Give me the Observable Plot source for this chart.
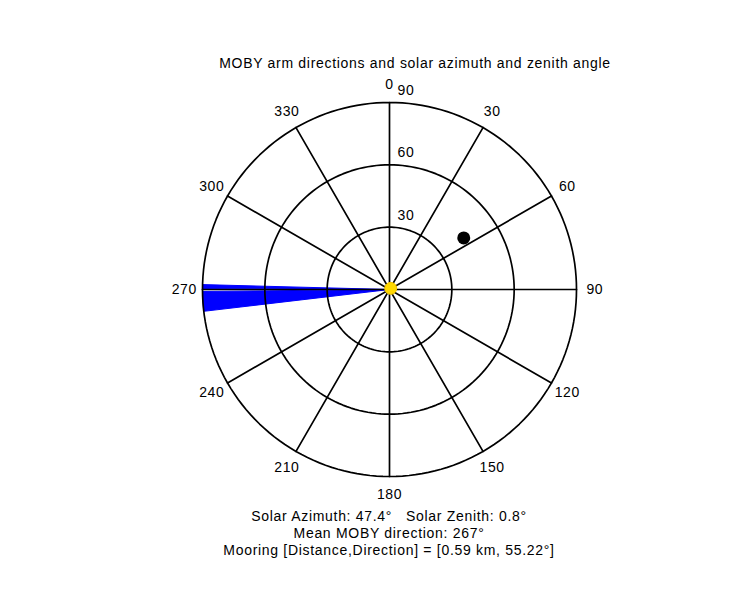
<!DOCTYPE html>
<html>
<head>
<meta charset="utf-8">
<script src="https://cdn.jsdelivr.net/npm/d3@7"></script>
<script src="https://cdn.jsdelivr.net/npm/@observablehq/plot@0.6"></script>
<style>
  body { margin: 0; background: #fff; }
  #wrap { position: relative; width: 750px; height: 600px; font-family: "Liberation Sans", Arial, sans-serif; color: #000; }
  #wrap svg { position: absolute; left: 0; top: 0; }
  #wrap svg text { letter-spacing: 0.6px; }
  .t { position: absolute; left: 0; width: 750px; text-align: center; font-size: 14px; line-height: 17px; white-space: pre; letter-spacing: 0.7px; }
</style>
</head>
<body>
<div id="wrap"></div>
<script>
// ---- data ----
const title = "MOBY arm directions and solar azimuth and zenith angle";
const ringValues = [30, 60, 90];                 // zenith rings (deg)
const spokeAngles = [0, 30, 60, 90, 120, 150];   // spokes through center
const angleLabels = [0, 30, 60, 90, 120, 150, 180, 210, 240, 270, 300, 330];
// MOBY arm direction wedges [start, end] azimuth (deg)
const armWedgeStart = [263.3, 270.3];
const armWedgeEnd   = [269.4, 271.5];
const solarAzimuth = 47.4;
const solarZenith = 0.8;
const meanMobyDirection = 267;
const mooringDistanceKm = 0.59;
const mooringDirection = 55.22;
const mooringPlotRadius = 43.5;   // plotted radius of mooring marker
const captionLines = [
  "Solar Azimuth: 47.4\u00B0   Solar Zenith: 0.8\u00B0",
  "Mean MOBY direction: 267\u00B0",
  "Mooring [Distance,Direction] = [0.59 km, 55.22\u00B0]"
];

// ---- geometry helpers (compass: 0 = north, clockwise) ----
const rad = d => d * Math.PI / 180;
const px = (r, a) => r * Math.sin(rad(a));
const py = (r, a) => r * Math.cos(rad(a));

const ringPts = ringValues.flatMap(r =>
  d3.range(0, 361, 2).map(a => ({ring: r, x: px(r, a), y: py(r, a)})));
const spokePts = spokeAngles.flatMap(a => [
  {s: a, x: px(90, a), y: py(90, a)},
  {s: a, x: px(90, a + 180), y: py(90, a + 180)}
]);
const wedgePts = armWedgeStart.flatMap((s, i) => {
  const e = armWedgeEnd[i];
  const pts = [{w: i, x: 0, y: 0}];
  for (const a of d3.range(s, e, 0.25).concat([e])) pts.push({w: i, x: px(90, a), y: py(90, a)});
  pts.push({w: i, x: 0, y: 0});
  return pts;
});
const labelR = 98.8;
const angleLabelData = angleLabels.map(a => ({t: String(a), x: px(labelR, a), y: py(labelR, a)}));
const ringLabelData = ringValues.map(r => ({t: String(r), x: 0, y: r}));

const plot = Plot.plot({
  width: 750,
  height: 600,
  margin: 0,
  x: {domain: [-90, 90], range: [202, 576], axis: null},
  y: {domain: [-90, 90], range: [476, 102], axis: null},
  style: {fontFamily: "'Liberation Sans', Arial, sans-serif", fontSize: "14px", background: "#fff"},
  marks: [
    Plot.line(wedgePts, {x: "x", y: "y", z: "w", fill: "#0000ff", stroke: "#0000ff", strokeWidth: 1}),
    Plot.line(spokePts, {x: "x", y: "y", z: "s", stroke: "#000", strokeWidth: 1.7}),
    Plot.line(ringPts, {x: "x", y: "y", z: "ring", stroke: "#000", strokeWidth: 1.7, curve: "linear"}),
    Plot.text(angleLabelData, {x: "x", y: "y", text: "t", fill: "#000", fontSize: 14}),
    Plot.text(ringLabelData, {x: "x", y: "y", text: "t", fill: "#000", fontSize: 14, textAnchor: "start", dx: 8, dy: -12}),
    Plot.dot([{r: mooringPlotRadius, a: mooringDirection}], {x: d => px(d.r, d.a), y: d => py(d.r, d.a), r: 6.5, fill: "#000", stroke: "none"}),
    Plot.dot([{r: solarZenith, a: solarAzimuth}], {x: d => px(d.r, d.a), y: d => py(d.r, d.a), r: 6, fill: "#ffd800", stroke: "#f5c400", strokeWidth: 1})
  ]
});

const wrap = document.getElementById("wrap");
wrap.appendChild(plot);
const tdiv = document.createElement("div");
tdiv.className = "t";
tdiv.style.top = "55px";
tdiv.style.left = "40px";
tdiv.textContent = title;
wrap.appendChild(tdiv);
captionLines.forEach((line, i) => {
  const d = document.createElement("div");
  d.className = "t";
  d.style.top = (508 + i * 17) + "px";
  d.style.left = "14px";
  d.textContent = line;
  wrap.appendChild(d);
});
</script>
</body>
</html>
